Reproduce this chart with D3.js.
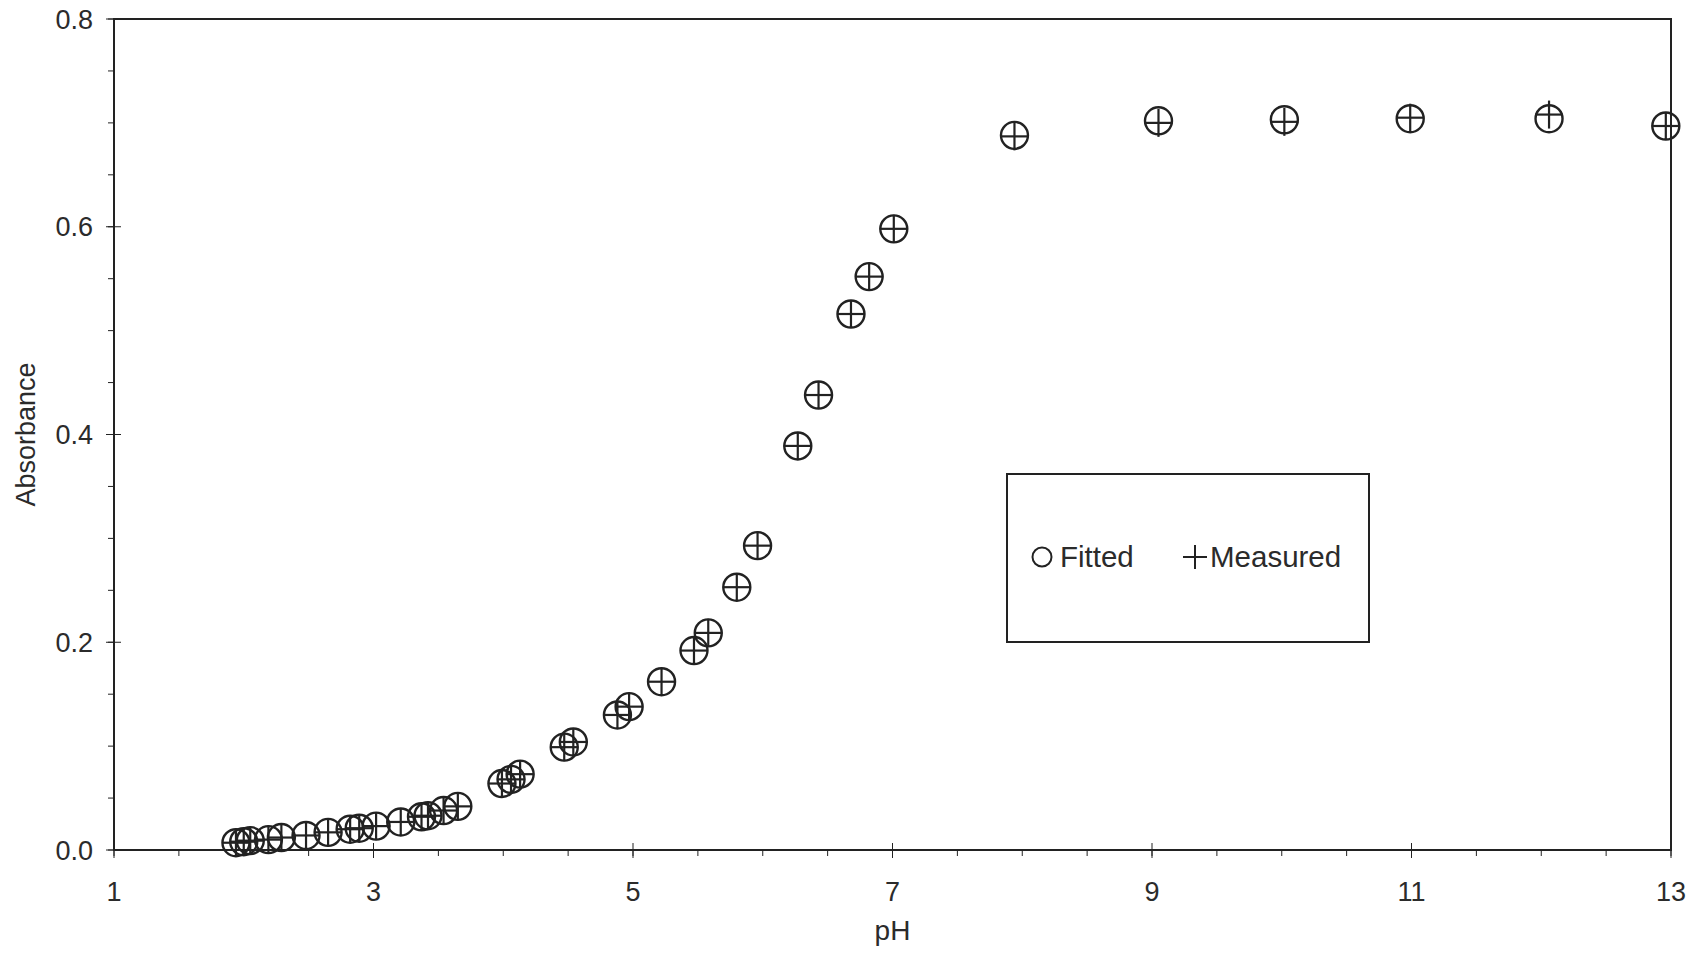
<!DOCTYPE html>
<html>
<head>
<meta charset="utf-8">
<script src="https://cdn.jsdelivr.net/npm/d3@7"></script>
<style>
  html, body { margin: 0; padding: 0; background: #ffffff; }
  svg { display: block; }
  text { font-family: "Liberation Sans", Arial, Helvetica, sans-serif; fill: #2b2b2b; }
</style>
</head>
<body>
<svg id="chart" width="1700" height="954"></svg>
<script>
// ---- data ----
const pH = [1.94, 2.00, 2.05, 2.19, 2.29, 2.48, 2.65, 2.82, 2.89, 3.02, 3.21, 3.37, 3.42, 3.54, 3.65,
            3.99, 4.06, 4.13, 4.47, 4.54, 4.88, 4.97, 5.22, 5.47, 5.58, 5.80, 5.96, 6.27, 6.43,
            6.68, 6.82, 7.01, 7.94, 9.05, 10.02, 10.99, 12.06, 12.96];
const fitted = [0.007, 0.008, 0.009, 0.010, 0.012, 0.014, 0.017, 0.020, 0.021, 0.023, 0.027, 0.032, 0.033, 0.038, 0.042,
                0.064, 0.068, 0.073, 0.099, 0.104, 0.130, 0.138, 0.162, 0.192, 0.209, 0.253, 0.293, 0.389, 0.438,
                0.516, 0.552, 0.598, 0.688, 0.702, 0.703, 0.704, 0.704, 0.697];
const measured = [0.007, 0.008, 0.009, 0.010, 0.012, 0.014, 0.017, 0.020, 0.021, 0.023, 0.027, 0.032, 0.033, 0.038, 0.042,
                  0.064, 0.068, 0.073, 0.099, 0.104, 0.130, 0.138, 0.162, 0.192, 0.209, 0.253, 0.293, 0.389, 0.438,
                  0.516, 0.552, 0.598, 0.687, 0.700, 0.701, 0.705, 0.708, 0.697];
const xTickLabels = [1, 3, 5, 7, 9, 11, 13];
const yTickLabels = [0.0, 0.2, 0.4, 0.6, 0.8];
const seriesNames = ["Fitted", "Measured"];
const xTitle = "pH";
const yTitle = "Absorbance";

// ---- layout ----
const svg = d3.select("#chart");
const L = 114, R = 1671, T = 19, B = 850;
const ink = "#222222";

const x = d3.scaleLinear().domain([1, 13]).range([L, R]);
const y = d3.scaleLinear().domain([0, 0.8]).range([B, T]);

// frame
svg.append("rect").attr("x", L).attr("y", T).attr("width", R - L).attr("height", B - T)
  .attr("fill", "none").attr("stroke", ink).attr("stroke-width", 2);

// minor ticks
const xMinor = d3.range(1, 13.001, 0.5);
svg.append("g").selectAll("line").data(xMinor).join("line")
  .attr("x1", d => x(d)).attr("x2", d => x(d))
  .attr("y1", B).attr("y2", B + 6)
  .attr("stroke", ink).attr("stroke-width", 1);
const yMinor = d3.range(0, 0.8001, 0.05);
svg.append("g").selectAll("line").data(yMinor).join("line")
  .attr("x1", L - 6).attr("x2", L)
  .attr("y1", d => y(d)).attr("y2", d => y(d))
  .attr("stroke", ink).attr("stroke-width", 1);

// major ticks (crossing the axis)
svg.append("g").selectAll("line").data(xTickLabels).join("line")
  .attr("x1", d => x(d)).attr("x2", d => x(d))
  .attr("y1", B - 7).attr("y2", B + 8)
  .attr("stroke", ink).attr("stroke-width", 1);
svg.append("g").selectAll("line").data(yTickLabels).join("line")
  .attr("x1", L - 8).attr("x2", L + 7)
  .attr("y1", d => y(d)).attr("y2", d => y(d))
  .attr("stroke", ink).attr("stroke-width", 1);

// tick labels
svg.append("g").selectAll("text").data(xTickLabels).join("text")
  .attr("x", d => x(d)).attr("y", 901)
  .attr("text-anchor", "middle").attr("font-size", 27)
  .text(d => d);
svg.append("g").selectAll("text").data(yTickLabels).join("text")
  .attr("x", 93).attr("y", d => y(d) + 9.5)
  .attr("text-anchor", "end").attr("font-size", 27)
  .text(d => d3.format(".1f")(d));

// axis titles
svg.append("text").attr("x", x(7)).attr("y", 940)
  .attr("text-anchor", "middle").attr("font-size", 28).text(xTitle);
svg.append("text")
  .attr("transform", `translate(35,${(T + B) / 2}) rotate(-90)`)
  .attr("text-anchor", "middle").attr("font-size", 27).text(yTitle);

// markers
const rC = 13.5, hP = 14;
const pts = pH.map((p, i) => ({p, f: fitted[i], m: measured[i]}));
svg.append("g").selectAll("circle").data(pts).join("circle")
  .attr("cx", d => x(d.p)).attr("cy", d => y(d.f)).attr("r", rC)
  .attr("fill", "none").attr("stroke", ink).attr("stroke-width", 2.4);
const plus = svg.append("g").selectAll("g").data(pts).join("g")
  .attr("transform", d => `translate(${x(d.p)},${y(d.m)})`);
plus.append("line").attr("x1", -hP).attr("x2", hP).attr("y1", 0).attr("y2", 0)
  .attr("stroke", ink).attr("stroke-width", 2.2);
plus.append("line").attr("x1", 0).attr("x2", 0).attr("y1", -hP).attr("y2", hP)
  .attr("stroke", ink).attr("stroke-width", 2.2);

// legend
const lg = svg.append("g");
lg.append("rect").attr("x", 1007).attr("y", 474).attr("width", 362).attr("height", 168)
  .attr("fill", "#fff").attr("stroke", ink).attr("stroke-width", 2);
lg.append("circle").attr("cx", 1042).attr("cy", 557).attr("r", 9.5)
  .attr("fill", "none").attr("stroke", ink).attr("stroke-width", 2);
lg.append("text").attr("x", 1060).attr("y", 567).attr("font-size", 29.5).text(seriesNames[0]);
lg.append("line").attr("x1", 1183).attr("x2", 1207).attr("y1", 557).attr("y2", 557)
  .attr("stroke", ink).attr("stroke-width", 2);
lg.append("line").attr("x1", 1195).attr("x2", 1195).attr("y1", 545).attr("y2", 569)
  .attr("stroke", ink).attr("stroke-width", 2);
lg.append("text").attr("x", 1210).attr("y", 567).attr("font-size", 29.5).text(seriesNames[1]);
</script>
</body>
</html>
